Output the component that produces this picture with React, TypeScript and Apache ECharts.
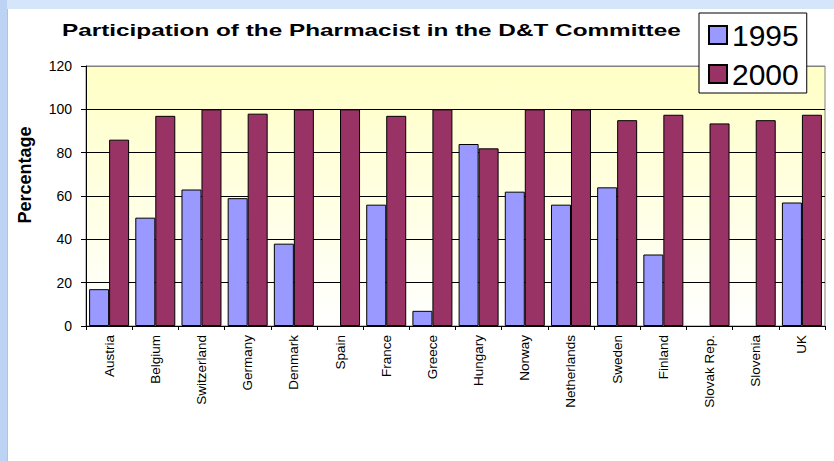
import React, { useEffect, useRef } from "react";
import * as echarts from "echarts";

const categories = ["Austria", "Belgium", "Switzerland", "Germany", "Denmark", "Spain", "France", "Greece", "Hungary", "Norway", "Netherlands", "Sweden", "Finland", "Slovak Rep.", "Slovenia", "UK"];
const values1995 = [17, 50, 63, 59, 38, null, 56, 7, 84, 62, 56, 64, 33, null, null, 57];
const values2000 = [86, 97, 100, 98, 100, 100, 97, 100, 82, 100, 100, 95, 97.5, 93.5, 95, 97.5];
const seriesNames = ["1995", "2000"];
const yTicks = { min: 0, max: 120, interval: 20 };
const titleText = "Participation of the Pharmacist in the D&T Committee";
const yAxisTitle = "Percentage";

const FONT = "'Liberation Sans', Arial, Helvetica, sans-serif";

export default function App() {
  const ref = useRef<HTMLDivElement>(null);
  useEffect(() => {
    if (!ref.current) return;
    const chart = echarts.init(ref.current, null, { renderer: "svg" });
    chart.setOption({
      animation: false,
      backgroundColor: "#ffffff",
      graphic: [
        {
          type: "text",
          x: 54,
          y: 21,
          scaleX: 1.52,
          style: {
            text: titleText,
            fontFamily: FONT,
            fontSize: 16,
            fontWeight: "bold",
            fill: "#000",
            textAlign: "left",
            textVerticalAlign: "middle",
          },
        },
        {
          type: "text",
          x: 17,
          y: 166,
          rotation: Math.PI / 2,
          style: {
            text: yAxisTitle,
            fontFamily: FONT,
            fontSize: 18,
            fontWeight: "bold",
            fill: "#000",
            textAlign: "center",
            textVerticalAlign: "middle",
          },
        },
      ],
      legend: {
        orient: "vertical",
        left: 691,
        top: 4,
        data: seriesNames,
        icon: "rect",
        itemWidth: 18,
        itemHeight: 18,
        itemGap: 9,
        itemTextGap: 12,
        padding: [7, 8, 4, 9],
        backgroundColor: "#ffffff",
        borderColor: "#000",
        borderWidth: 1,
        borderRadius: 0,
        textStyle: { fontFamily: FONT, fontSize: 30, color: "#000", lineHeight: 30 },
      },
      grid: {
        left: 78,
        top: 57,
        right: 9,
        bottom: 135,
        show: true,
        borderColor: "#808080",
        borderWidth: 1,
        backgroundColor: new echarts.graphic.LinearGradient(0, 0, 0, 1, [
          { offset: 0, color: "#ffffc6" },
          { offset: 1, color: "#ffffff" },
        ]),
      },
      xAxis: {
        type: "category",
        data: categories,
        axisLine: { lineStyle: { color: "#000", width: 1 } },
        axisTick: { show: true, interval: 0, length: 4, lineStyle: { color: "#000" } },
        axisLabel: {
          interval: 0,
          rotate: 90,
          margin: 9,
          fontFamily: FONT,
          fontSize: 13.5,
          color: "#000",
        },
      },
      yAxis: {
        type: "value",
        min: yTicks.min,
        max: yTicks.max,
        interval: yTicks.interval,
        axisLine: { show: true, lineStyle: { color: "#000", width: 1 } },
        axisTick: { show: true, length: 5, lineStyle: { color: "#000" } },
        axisLabel: { margin: 14, fontFamily: FONT, fontSize: 14, color: "#000" },
        splitLine: {
          show: true,
          lineStyle: { color: ["#000", "#000", "#000", "#000", "#000", "#000", "#808080"], width: 1 },
        },
      },
      series: [
        {
          name: seriesNames[0],
          type: "bar",
          data: values1995,
          barWidth: 20,
          barGap: "0%",
          itemStyle: { color: "#9999ff", borderColor: "#000", borderWidth: 1 },
        },
        {
          name: seriesNames[1],
          type: "bar",
          data: values2000,
          barWidth: 20,
          barGap: "0%",
          itemStyle: { color: "#993366", borderColor: "#000", borderWidth: 1 },
        },
      ],
    });
    return () => chart.dispose();
  }, []);
  return (
    <div style={{ position: "absolute", left: 0, top: 0, width: 834, height: 461, background: "#d6e6fa", overflow: "hidden" }}>
      <div style={{ position: "absolute", left: 0, top: 0, width: 7, height: 461, background: "#bdd3f3" }} />
      <div style={{ position: "absolute", left: 7, top: 9, width: 1, height: 452, background: "#b4c2d6" }} />
      <div ref={ref} style={{ position: "absolute", left: 8, top: 9, width: 826, height: 452 }} />
    </div>
  );
}
